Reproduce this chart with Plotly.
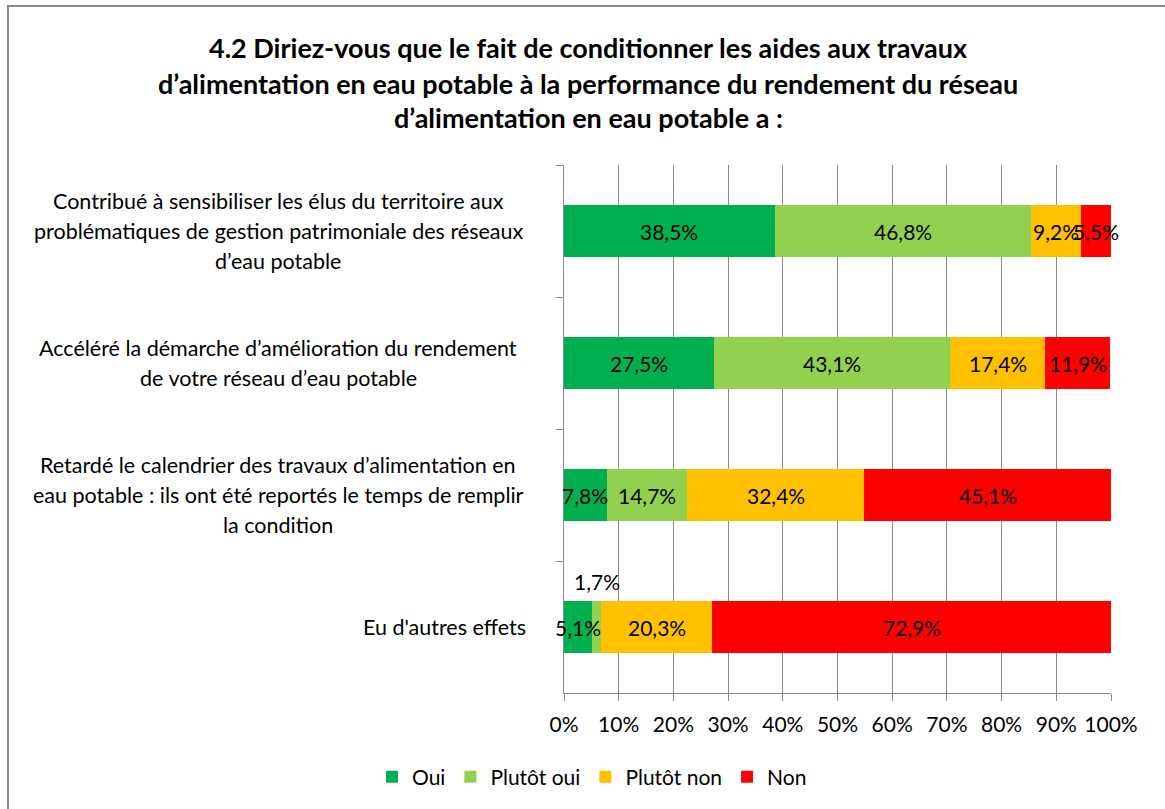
import plotly.graph_objects as go

# Survey question 4.2 — answers per statement, in percent
categories = [
    "Contribué à sensibiliser les élus du territoire aux<br>problématiques de gestion patrimoniale des réseaux<br>d’eau potable",
    "Accéléré la démarche d’amélioration du rendement<br>de votre réseau d’eau potable",
    "Retardé le calendrier des travaux d’alimentation en<br>eau potable : ils ont été reportés le temps de remplir<br>la condition",
    "Eu d'autres effets",
]
series_names = ["Oui", "Plutôt oui", "Plutôt non", "Non"]
oui = [38.5, 27.5, 7.8, 5.1]
plutot_oui = [46.8, 43.1, 14.7, 1.7]
plutot_non = [9.2, 17.4, 32.4, 20.3]
non = [5.5, 11.9, 45.1, 72.9]
x_ticks = list(range(0, 101, 10))

title_lines = [
    "4.2 Diriez-vous que le fait de conditionner les aides aux travaux",
    "d’alimentation en eau potable à la performance du rendement du réseau",
    "d’alimentation en eau potable a :",
]

colors = ["#00B050", "#92D050", "#FFC000", "#FF0000"]
FONT = "Lato"

W, H = 1165, 809
L, R, T, B = 564, 54, 165, 116
plot_w, plot_h = W - L - R, H - T - B


def px_to_paper_x(px):
    return (px - L) / plot_w


def px_to_paper_y(py):
    return (H - B - py) / plot_h


fig = go.Figure()
all_series = [oui, plutot_oui, plutot_non, non]
for name, vals, col in zip(series_names, all_series, colors):
    fig.add_trace(go.Bar(
        y=categories, x=vals, name=name, orientation="h",
        marker=dict(color=col, line=dict(width=0)),
        textposition="none", hoverinfo="x+name",
    ))

annotations = []

# value labels centred on each segment
for i, cat in enumerate(categories):
    start = 0.0
    for s, vals in enumerate(all_series):
        v = vals[i]
        label = f"{v:.1f}".replace(".", ",") + "%"
        shift = 0
        # the thin "Plutôt oui" slice of the last row gets its label above the bar
        if i == 3 and s == 1:
            shift = 46
        annotations.append(dict(
            x=start + v / 2, y=cat, xref="x", yref="y", text=label,
            showarrow=False, yshift=shift,
            font=dict(family=FONT, size=21, color="#000000"),
        ))
        start += v

# category labels: wrapped blocks have centred lines, single lines sit against the axis
line_gap = 30
for cat in categories:
    lines = cat.split("<br>")
    n = len(lines)
    for k, ln in enumerate(lines):
        if n > 1:
            pos = dict(x=px_to_paper_x(278), xanchor="center")
        else:
            pos = dict(x=px_to_paper_x(528), xanchor="right")
        annotations.append(dict(
            y=cat, xref="paper", yref="y", text=ln,
            showarrow=False, yanchor="middle",
            yshift=((n - 1) / 2 - k) * line_gap,
            font=dict(family=FONT, size=21.5, color="#000000"),
            **pos,
        ))

# title lines
for ln, py in zip(title_lines, [47, 83, 118]):
    annotations.append(dict(
        x=px_to_paper_x(588), y=px_to_paper_y(py), xref="paper", yref="paper",
        text=f"<b>{ln}</b>", showarrow=False, xanchor="center", yanchor="middle",
        font=dict(family=FONT, size=27, color="#000000"),
    ))

fig.update_layout(
    width=W, height=H,
    margin=dict(l=L, r=R, t=T, b=B, pad=0),
    barmode="stack", bargap=0.6,
    plot_bgcolor="#FFFFFF", paper_bgcolor="#FFFFFF",
    font=dict(family=FONT, size=21, color="#000000"),
    showlegend=True,
    legend=dict(
        orientation="h", x=px_to_paper_x(592), xanchor="center",
        y=px_to_paper_y(777), yanchor="middle",
        font=dict(family=FONT, size=21, color="#000000"),
        traceorder="normal", itemclick=False,
    ),
    annotations=annotations,
    shapes=[dict(
        type="rect", xref="paper", yref="paper",
        x0=px_to_paper_x(8), y0=px_to_paper_y(6),
        x1=px_to_paper_x(W + 20), y1=px_to_paper_y(H + 20),
        line=dict(color="#898989", width=2), fillcolor="rgba(0,0,0,0)", layer="below",
    )],
)

fig.update_xaxes(
    range=[0, 100], tickvals=x_ticks, ticktext=[f"{t}%" for t in x_ticks],
    showgrid=True, gridcolor="#8A8A8A", gridwidth=1.3,
    showline=True, linecolor="#8A8A8A", linewidth=1.3,
    ticks="outside", ticklen=7, tickcolor="#8A8A8A", tickwidth=1.3,
    ticklabelstandoff=6, tickfont=dict(family=FONT, size=21, color="#000000"),
    zeroline=False, fixedrange=True,
)
fig.update_yaxes(
    type="category", categoryorder="array", categoryarray=categories,
    range=[3.5, -0.5], showticklabels=False,
    showgrid=False, showline=True, linecolor="#8A8A8A", linewidth=1.3,
    ticks="outside", tickson="boundaries", ticklen=7, tickcolor="#8A8A8A", tickwidth=1.3,
    zeroline=False, fixedrange=True,
)

fig.write_html("out.html")
